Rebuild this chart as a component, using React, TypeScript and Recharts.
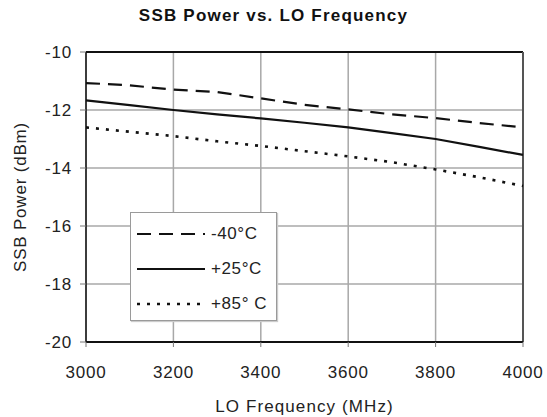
import React from "react";
import {
  LineChart,
  Line,
  XAxis,
  YAxis,
  CartesianGrid,
  ReferenceLine,
  Label,
} from "recharts";

// LO frequency (MHz)
const freqs = [3000, 3100, 3200, 3300, 3400, 3500, 3600, 3700, 3800, 3900, 4000];

// SSB power (dBm) per temperature
const tempMinus40 = [-11.07, -11.15, -11.3, -11.38, -11.6, -11.82, -11.98, -12.15, -12.28, -12.45, -12.6];
const temp25 = [-11.67, -11.83, -12.0, -12.15, -12.29, -12.44, -12.6, -12.8, -13.0, -13.27, -13.55];
const temp85 = [-12.6, -12.75, -12.9, -13.08, -13.24, -13.42, -13.6, -13.8, -14.05, -14.32, -14.62];

const xTicks = [3000, 3200, 3400, 3600, 3800, 4000];
const yTicks = [-20, -18, -16, -14, -12, -10];

const seriesInfo = [
  { key: "m40", name: "-40°C", dash: "14 8", width: 2.2 },
  { key: "p25", name: "+25°C", dash: "", width: 2.2 },
  { key: "p85", name: "+85° C", dash: "3 7", width: 2.6 },
];

const data = freqs.map((f, i) => ({
  freq: f,
  m40: tempMinus40[i],
  p25: temp25[i],
  p85: temp85[i],
}));

const FONT = "'Liberation Sans', Arial, sans-serif";

// legend box sits inside the plot like the original
const LegendBox = () => (
  <div
    style={{
      position: "absolute",
      left: 130,
      top: 212,
      width: 147,
      height: 109,
      border: "1px solid #9a9a9a",
      background: "#fff",
      boxShadow: "1px 1px 1px #ccc",
      fontFamily: FONT,
      fontSize: 17,
      color: "#222",
      letterSpacing: 0.6,
      boxSizing: "border-box",
      paddingTop: 3,
    }}
  >
    {seriesInfo.map((s) => (
      <div key={s.key} style={{ display: "flex", alignItems: "center", height: 35 }}>
        <svg width={74} height={10} style={{ marginLeft: 6 }}>
          <line
            x1={0}
            y1={5}
            x2={68}
            y2={5}
            stroke="#111"
            strokeWidth={s.width}
            strokeDasharray={s.dash}
          />
        </svg>
        <span>{s.name}</span>
      </div>
    ))}
  </div>
);

export default function App() {
  return (
    <div style={{ position: "absolute", left: 0, top: 0, width: 547, height: 417, background: "#fff" }}>
      <div
        style={{
          position: "absolute",
          top: 6,
          left: 0,
          width: 547,
          textAlign: "center",
          fontFamily: FONT,
          fontWeight: "bold",
          fontSize: 17,
          letterSpacing: 1.2,
          color: "#111",
        }}
      >
        SSB Power vs. LO Frequency
      </div>
      <LineChart
        width={547}
        height={417}
        data={data}
        margin={{ top: 52, right: 24, left: 0, bottom: 0 }}
      >
        <CartesianGrid stroke="#a8a8a8" strokeWidth={1.5} />
        <XAxis
          dataKey="freq"
          type="number"
          domain={[3000, 4000]}
          ticks={xTicks}
          height={75}
          tickSize={5}
          tickMargin={19}
          axisLine={{ stroke: "#111", strokeWidth: 2 }}
          tickLine={{ stroke: "#777" }}
          tick={{ fontSize: 17, fill: "#222", fontFamily: FONT, letterSpacing: 0.8 }}
        >
          <Label
            value="LO Frequency (MHz)"
            position="insideBottom"
            offset={5}
            style={{ fontSize: 17, fill: "#222", fontFamily: FONT, letterSpacing: 1.1 }}
          />
        </XAxis>
        <YAxis
          type="number"
          domain={[-20, -10]}
          ticks={yTicks}
          width={86}
          tickSize={6}
          tickMargin={8}
          axisLine={{ stroke: "#111", strokeWidth: 1.5 }}
          tickLine={{ stroke: "#777" }}
          tick={{ fontSize: 17, fill: "#222", fontFamily: FONT, letterSpacing: 0.8 }}
        >
          <Label
            value="SSB Power (dBm)"
            angle={-90}
            position="center"
            dx={-23}
            style={{ fontSize: 17, fill: "#222", fontFamily: FONT, letterSpacing: 0.8, textAnchor: "middle" }}
          />
        </YAxis>
        {/* plot frame */}
        <ReferenceLine y={-10} stroke="#111" strokeWidth={2} />
        <ReferenceLine x={4000} stroke="#555" strokeWidth={2} />
        {seriesInfo.map((s) => (
          <Line
            key={s.key}
            type="linear"
            dataKey={s.key}
            name={s.name}
            stroke="#111"
            strokeWidth={s.width}
            strokeDasharray={s.dash}
            dot={false}
            isAnimationActive={false}
          />
        ))}
      </LineChart>
      <LegendBox />
    </div>
  );
}
